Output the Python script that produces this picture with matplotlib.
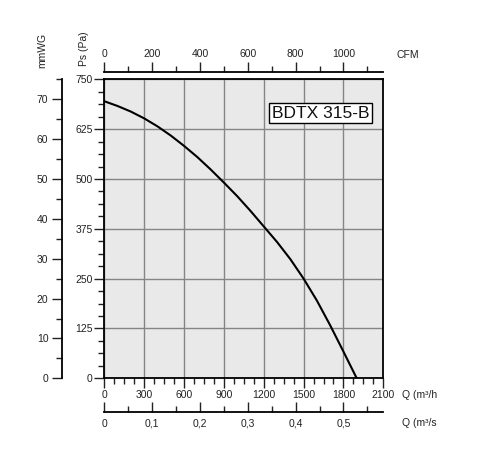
import numpy as np
import matplotlib
matplotlib.use("Agg")
import matplotlib.pyplot as plt
from matplotlib.ticker import MultipleLocator

plt.rcParams.update({
    "font.family": ["Liberation Sans", "DejaVu Sans"],
    "font.size": 7.5,
    "xtick.color": "#222222", "ytick.color": "#222222",
})

# fan curve: flow (m3/h) vs static pressure (Pa)
flow = [0, 100, 200, 300, 400, 500, 600, 700, 800, 900, 1000,
        1100, 1200, 1300, 1400, 1500, 1600, 1700, 1800, 1900]
pressure = [695, 683, 669, 652, 632, 609, 583, 555, 524, 491, 457,
            420, 381, 342, 299, 250, 195, 133, 67, 0]

pa_ticks = [0, 125, 250, 375, 500, 625, 750]
q_ticks = [0, 300, 600, 900, 1200, 1500, 1800, 2100]
mmwg_ticks = [0, 10, 20, 30, 40, 50, 60, 70]
cfm_ticks = [0, 200, 400, 600, 800, 1000]
qs_ticks = [0, 0.1, 0.2, 0.3, 0.4, 0.5]
qs_labels = ["0", "0,1", "0,2", "0,3", "0,4", "0,5"]
model = "BDTX 315-B"

W, H = 497, 459
fig = plt.figure(figsize=(W / 100, H / 100), dpi=100)
L, R, T, B = 104.3, 383.3, 79.3, 378.3
ax = fig.add_axes([L / W, 1 - B / H, (R - L) / W, (B - T) / H])
ax.set_facecolor("#e9e9e9")
ax.set_xlim(0, 2100); ax.set_ylim(0, 750)
ax.plot(flow, pressure, color="black", lw=1.5, zorder=5, solid_joinstyle="round")

ax.set_xticks(q_ticks); ax.set_yticks(pa_ticks)
ax.xaxis.set_minor_locator(MultipleLocator(75))
ax.yaxis.set_minor_locator(MultipleLocator(31.25))
ax.grid(True, which="major", color="#858585", lw=1.0)
for s in ax.spines.values():
    s.set_color("black"); s.set_linewidth(1.3)
ax.tick_params(which="major", length=7, width=1.0, pad=1.5)
ax.tick_params(which="minor", length=4.3, width=1.0)

ax.text(0.776, 0.887, model, transform=ax.transAxes, ha="center", va="center",
        fontsize=12.5, color="#111111", zorder=6,
        bbox=dict(boxstyle="square,pad=0.15", fc="white", ec="black", lw=1.0))

# left mmWG axis
sy = ax.secondary_yaxis((62.3 - L) / (R - L), functions=(lambda p: p / 10, lambda m: m * 10))
sy.set_yticks(mmwg_ticks)
sy.yaxis.set_minor_locator(MultipleLocator(5))
sy.spines["left"].set_linewidth(1.3)
sy.tick_params(which="major", length=7, width=1.0, pad=3)
sy.tick_params(which="minor", length=4.3, width=1.0)

# top CFM axis
sx = ax.secondary_xaxis(1 + (T - 72) / (B - T), functions=(lambda q: q / 1.8, lambda c: c * 1.8))
sx.set_xticks(cfm_ticks)
sx.xaxis.set_minor_locator(MultipleLocator(100))
sx.spines["top"].set_linewidth(1.3)
sx.tick_params(which="major", length=7, width=1.0, pad=2)
sx.tick_params(which="minor", length=4.3, width=1.0)

# bottom m3/s axis
sb = ax.secondary_xaxis(-(411.7 - B) / (B - T), functions=(lambda q: q / 3600, lambda s: s * 3600))
sb.set_xticks(qs_ticks, qs_labels)
sb.xaxis.set_minor_locator(MultipleLocator(0.05))
sb.spines["bottom"].set_linewidth(1.3)
sb.tick_params(which="major", direction="in", length=7, width=1.0, pad=5)
sb.tick_params(which="minor", direction="in", length=4.3, width=1.0)

fig.text(42.5 / W, 1 - 50 / H, "mmWG", rotation=90, ha="center", va="center", fontsize=7.5, color="#222222")
fig.text(84 / W, 1 - 49 / H, "Ps (Pa)", rotation=90, ha="center", va="center", fontsize=7.5, color="#222222")
fig.text(396.5 / W, 1 - 55 / H, "CFM", ha="left", va="center", fontsize=7.5, color="#222222")
fig.text(402 / W, 1 - 395 / H, "Q (m³/h", ha="left", va="center", fontsize=7.5, color="#222222")
fig.text(402 / W, 1 - 422.5 / H, "Q (m³/s", ha="left", va="center", fontsize=7.5, color="#222222")

fig.savefig("out.png", dpi=100)
